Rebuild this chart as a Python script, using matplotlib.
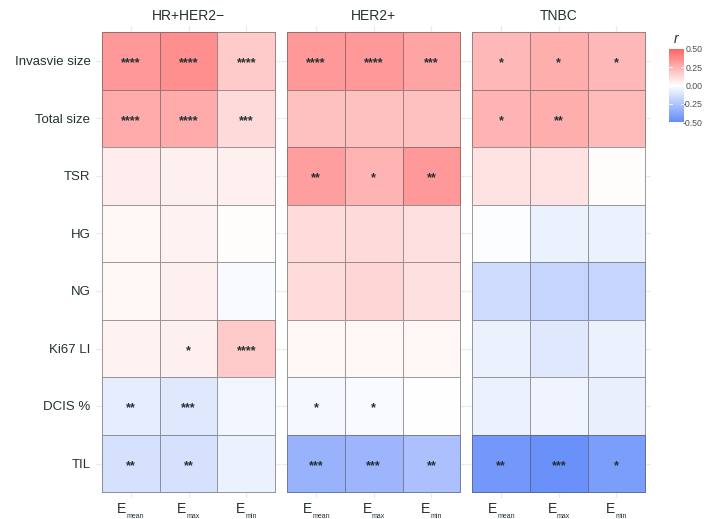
import matplotlib.pyplot as plt
import numpy as np
from matplotlib.colors import LinearSegmentedColormap, Normalize

plt.rcParams['font.family'] = ['Liberation Sans', 'DejaVu Sans']
plt.rcParams['mathtext.fontset'] = 'custom'
plt.rcParams['mathtext.rm'] = 'Liberation Sans'
plt.rcParams['mathtext.it'] = 'Liberation Sans:italic'

# Dados
grupos = ['HR+HER2−', 'HER2+', 'TNBC']
variaveis = ['Invasvie size', 'Total size', 'TSR', 'HG', 'NG', 'Ki67 LI', 'DCIS %', 'TIL']
metricas = ['mean', 'max', 'min']

# correlacao r (linhas = variaveis, colunas = Emean, Emax, Emin)
r_hr_her2neg = [[0.33, 0.36, 0.17],
                [0.27, 0.27, 0.12],
                [0.06, 0.05, 0.05],
                [0.03, 0.04, 0.01],
                [0.03, 0.05, -0.02],
                [0.04, 0.05, 0.17],
                [-0.08, -0.10, -0.04],
                [-0.13, -0.13, -0.06]]
r_her2pos = [[0.33, 0.33, 0.29],
             [0.20, 0.20, 0.20],
             [0.31, 0.24, 0.33],
             [0.11, 0.12, 0.10],
             [0.11, 0.13, 0.10],
             [0.03, 0.03, 0.03],
             [-0.03, -0.02, 0.00],
             [-0.33, -0.32, -0.27]]
r_tnbc = [[0.23, 0.26, 0.23],
          [0.24, 0.26, 0.22],
          [0.09, 0.09, 0.01],
          [-0.01, -0.06, -0.06],
          [-0.15, -0.18, -0.18],
          [-0.06, -0.10, -0.06],
          [-0.06, -0.05, -0.07],
          [-0.45, -0.48, -0.42]]

sig_hr_her2neg = [['****', '****', '****'],
                  ['****', '****', '***'],
                  ['', '', ''],
                  ['', '', ''],
                  ['', '', ''],
                  ['', '*', '****'],
                  ['**', '***', ''],
                  ['**', '**', '']]
sig_her2pos = [['****', '****', '***'],
               ['', '', ''],
               ['**', '*', '**'],
               ['', '', ''],
               ['', '', ''],
               ['', '', ''],
               ['*', '*', ''],
               ['***', '***', '**']]
sig_tnbc = [['*', '*', '*'],
            ['*', '**', ''],
            ['', '', ''],
            ['', '', ''],
            ['', '', ''],
            ['', '', ''],
            ['', '', ''],
            ['**', '***', '*']]

valores = [r_hr_her2neg, r_her2pos, r_tnbc]
sigs = [sig_hr_her2neg, sig_her2pos, sig_tnbc]

cor_texto = '#243232'
cmap = LinearSegmentedColormap.from_list('r', ['#648cfa', '#ffffff', '#ff6464'])
norm = Normalize(vmin=-0.5, vmax=0.5)

W, H = 705, 519
fig = plt.figure(figsize=(W / 100, H / 100), dpi=100)

# paineis (pixels): esquerda, direita
paineis = [(96, 281), (281.5, 466), (466.5, 651)]
topo, base = 26.5, 498

# larguras aproximadas (pt) do subscrito, para centrar E + subscrito
larg_sub = {'mean': 12.5, 'max': 9.4, 'min': 8.0}
larg_E = 6.7

xe = np.arange(0.5, 4)
ye = np.arange(0.5, 9)
for k, (x0, x1) in enumerate(paineis):
    ax = fig.add_axes([x0 / W, 1 - base / H, (x1 - x0) / W, (base - topo) / H])
    v = np.array(valores[k])
    ax.pcolormesh(xe, ye, v, cmap=cmap, norm=norm,
                  edgecolors=(0.3, 0.3, 0.3, 0.55), linewidth=0.7, zorder=2)
    for i in range(len(variaveis)):
        for j in range(len(metricas)):
            s = sigs[k][i][j]
            if s:
                ax.text(j + 1, i + 1.04, s, ha='center', va='center',
                        fontsize=9, fontweight='bold', color=cor_texto, zorder=3)
    ax.set_xlim(0.4, 3.6)
    ax.set_ylim(8.6, 0.4)
    ax.set_xticks([1, 2, 3])
    ax.set_xticklabels([])
    # rotulos E_mean, E_max, E_min
    for j, m in enumerate(metricas):
        x_esq = -(larg_E + larg_sub[m]) / 2
        ax.annotate('E', xy=(j + 1, 0), xycoords=('data', 'axes fraction'),
                    xytext=(x_esq, -11), textcoords='offset points',
                    ha='left', va='baseline', fontsize=10, color=cor_texto)
        ax.annotate(m, xy=(j + 1, 0), xycoords=('data', 'axes fraction'),
                    xytext=(x_esq + larg_E, -14.6), textcoords='offset points',
                    ha='left', va='baseline', fontsize=5, color=cor_texto)
    ax.set_yticks(np.arange(1, 9))
    if k == 0:
        ax.set_yticklabels(variaveis, fontsize=9.5, color=cor_texto)
    else:
        ax.set_yticklabels([])
    ax.tick_params(length=0, pad=4)
    ax.grid(color='#ebebeb', linewidth=0.9)
    ax.set_axisbelow(True)
    for sp in ax.spines.values():
        sp.set_visible(False)
    ax.set_title(grupos[k], fontsize=10, color=cor_texto, pad=5)

# Barra de cores
cax = fig.add_axes([669 / W, 1 - 122 / H, 15 / W, 73 / H])
cb = fig.colorbar(plt.cm.ScalarMappable(norm=norm, cmap=cmap), cax=cax)
cb.outline.set_visible(False)
cb.set_ticks([-0.5, -0.25, 0, 0.25, 0.5])
cb.set_ticklabels(['-0.50', '-0.25', '0.00', '0.25', '0.50'])
cax.tick_params(length=0, labelsize=6.3, colors='#4d4d4d', pad=13.5)
for lbl in cax.get_yticklabels():
    lbl.set_horizontalalignment('right')
for t in [-0.25, 0, 0.25]:
    cax.plot([0, 0.2], [t, t], color='white', lw=0.6, transform=cax.get_yaxis_transform())
    cax.plot([0.8, 1], [t, t], color='white', lw=0.6, transform=cax.get_yaxis_transform())
cax.set_title(r'$\mathit{r}$', fontsize=10, color=cor_texto, pad=4)

plt.savefig('out.png', dpi=100)
